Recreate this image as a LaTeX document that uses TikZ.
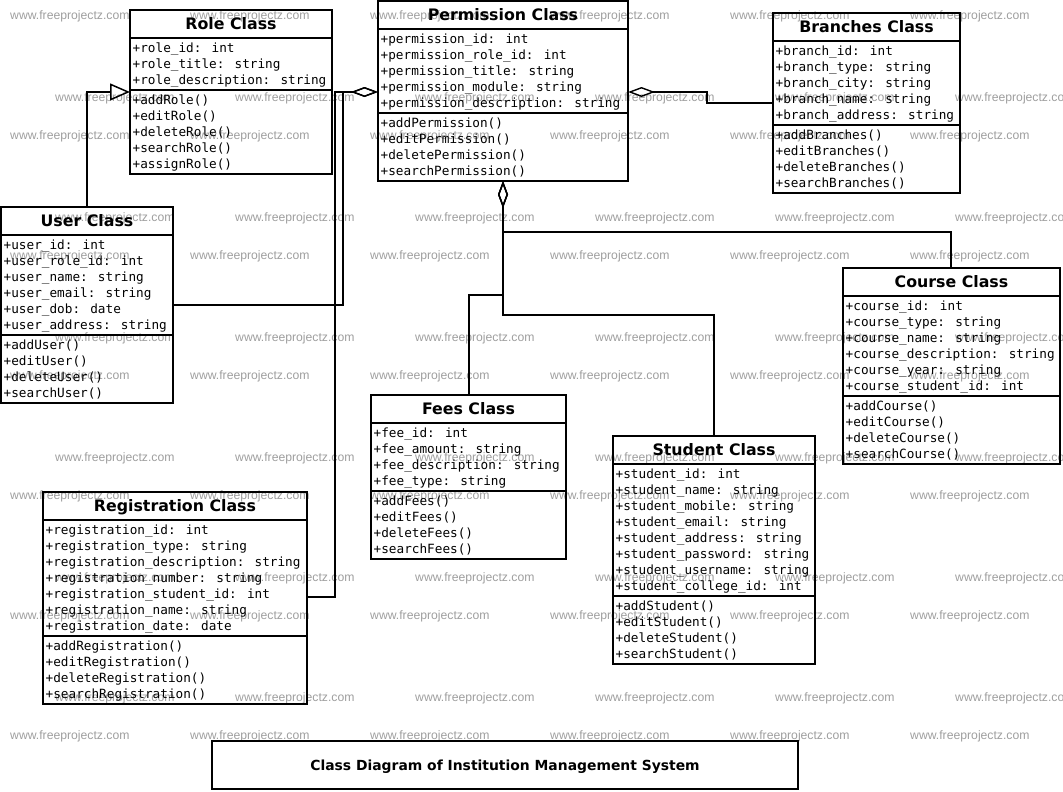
\documentclass[tikz,border=0pt]{standalone}
\usepackage{fontspec}
\usetikzlibrary{arrows.meta,calc}
\newfontfamily\monof{DejaVu Sans Mono}
\newfontfamily\sansf{DejaVu Sans}
\newfontfamily\wmf{Liberation Sans}
\tikzset{
  classbox/.style={draw, line width=1.8pt, inner sep=0pt, outer sep=0pt},
  classline/.style={line width=1.8pt},
  titletext/.style={font=\sansf\bfseries\fontsize{15.8}{18}\selectfont, inner sep=0pt, anchor=base},
  membertext/.style={font=\monof\fontsize{12.7}{16}\selectfont, inner sep=0pt, anchor=base west},
  conn/.style={line width=1.8pt},
  gen/.style={conn, -{Triangle[open, length=20pt, width=17pt, line width=1.5pt]}},
  agg/.style={conn, {Diamond[open, length=27pt, width=10pt, line width=1.4pt]}-},
  wmark/.style={font=\wmf\fontsize{12.2}{14}\selectfont, text=black!38, inner sep=0pt, anchor=base west},
}
\newcommand\umlclass[9]{%
  \pgfmathsetmacro\hA{#6*16+4}%
  \pgfmathsetmacro\hM{#8*16+4}%
  \pgfmathsetmacro\hT{28+\hA+\hM}%
  \node[classbox, minimum width=#4pt, minimum height=\hT pt, anchor=north west] (#1) at (#2,#3) {};
  \node[titletext] (#1-title) at ($(#1.north)+(0,19.5)$) {#5};
  \draw[classline] ($(#1.north west)+(0,28)$) -- ($(#1.north east)+(0,28)$);
  \draw[classline] ($(#1.north west)+(0,{28+\hA})$) -- ($(#1.north east)+(0,{28+\hA})$);
  \foreach \t [count=\i] in {#7} {\node[membertext] (#1-a\i) at ($(#1.north west)+(2.5,{28+14.5+16*(\i-1)})$) {\t};}
  \foreach \t [count=\i] in {#9} {\node[membertext] (#1-m\i) at ($(#1.north west)+(2.5,{28+\hA+14.5+16*(\i-1)})$) {\t};}
}
\begin{document}
\begin{tikzpicture}[x=1pt, y=-1pt]
\useasboundingbox (0,0) rectangle (1063,792);
% watermarks
\foreach \r in {0,...,6} {\foreach \c in {0,...,5} {
  \node[wmark] (wa-\r-\c) at ({10+180*\c},{19.5+120*\r}) {www.freeprojectz.com};}}
\foreach \r in {0,...,5} {\foreach \c in {0,...,5} {
  \node[wmark] (wb-\r-\c) at ({55+180*\c},{101.5+120*\r}) {www.freeprojectz.com};}}
% classes
\umlclass{role}{130}{10}{202}{Role Class}{3}{+role\_id: int, +role\_title: string, +role\_description: string}{5}{+addRole(), +editRole(), +deleteRole(), +searchRole(), +assignRole()}
\umlclass{perm}{378}{1}{250}{Permission Class}{5}{+permission\_id: int, +permission\_role\_id: int, +permission\_title: string, +permission\_module: string, +permission\_description: string}{4}{+addPermission(), +editPermission(), +deletePermission(), +searchPermission()}
\umlclass{branch}{773}{13}{187}{Branches Class}{5}{+branch\_id: int, +branch\_type: string, +branch\_city: string, +branch\_name: string, +branch\_address: string}{4}{+addBranches(), +editBranches(), +deleteBranches(), +searchBranches()}
\umlclass{user}{1}{207}{172}{User Class}{6}{+user\_id: int, +user\_role\_id: int, +user\_name: string, +user\_email: string, +user\_dob: date, +user\_address: string}{4}{+addUser(), +editUser(), +deleteUser(), +searchUser()}
\umlclass{course}{843}{268}{217}{Course Class}{6}{+course\_id: int, +course\_type: string, +course\_name: string, +course\_description: string, +course\_year: string, +course\_student\_id: int}{4}{+addCourse(), +editCourse(), +deleteCourse(), +searchCourse()}
\umlclass{fees}{371}{395}{195}{Fees Class}{4}{+fee\_id: int, +fee\_amount: string, +fee\_description: string, +fee\_type: string}{4}{+addFees(), +editFees(), +deleteFees(), +searchFees()}
\umlclass{student}{613}{436}{202}{Student Class}{8}{+student\_id: int, +student\_name: string, +student\_mobile: string, +student\_email: string, +student\_address: string, +student\_password: string, +student\_username: string, +student\_college\_id: int}{4}{+addStudent(), +editStudent(), +deleteStudent(), +searchStudent()}
\umlclass{reg}{43}{492}{264}{Registration Class}{7}{+registration\_id: int, +registration\_type: string, +registration\_description: string, +registration\_number: string, +registration\_student\_id: int, +registration\_name: string, +registration\_date: date}{4}{+addRegistration(), +editRegistration(), +deleteRegistration(), +searchRegistration()}
% caption
\node[draw, line width=1.8pt, inner sep=0pt, outer sep=0pt, minimum width=586pt, minimum height=48pt, anchor=north west] (capbox) at (212,741) {};
\node[font=\sansf\bfseries\fontsize{13.9}{16}\selectfont, inner sep=0pt, anchor=base] (captext) at ($(capbox.center)+(0,5)$) {Class Diagram of Institution Management System};
% junction coordinates
\coordinate (j1) at (343,92);
\coordinate (j2) at (335,92);
\coordinate (j3) at (707,92);
\coordinate (j5) at (503,232);
\coordinate (j6) at (503,315);
\coordinate (j7) at (503,295);
% connectors
\draw[gen] ($(user.north west)+(86,0)$) |- ($(role.north west)+(0,82)$);
\draw[agg] ($(perm.north west)+(0,91)$) -- (j1) |- ($(user.north east)+(0,98)$);
\draw[agg] ($(perm.north west)+(0,91)$) -- (j2) |- ($(reg.north east)+(0,105)$);
\draw[agg] ($(perm.north east)+(0,91)$) -- (j3) |- ($(branch.north west)+(0,90)$);
\draw[agg] ($(perm.south west)+(125,0)$) -- (j5) -| ($(course.north west)+(108,0)$);
\draw[agg] ($(perm.south west)+(125,0)$) -- (j6) -| ($(student.north west)+(101,0)$);
\draw[agg] ($(perm.south west)+(125,0)$) -- (j7) -| ($(fees.north west)+(98,0)$);
\end{tikzpicture}
\end{document}
